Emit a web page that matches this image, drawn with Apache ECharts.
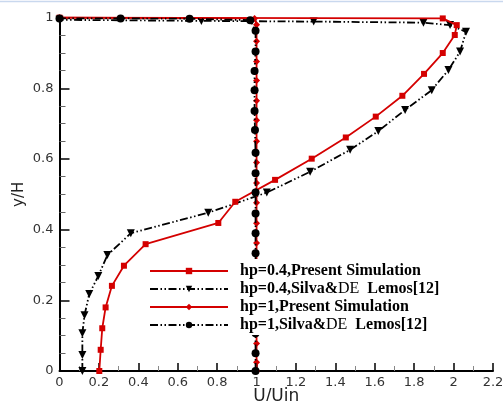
<!DOCTYPE html>
<html>
<head>
<meta charset="utf-8">
<script src="https://cdn.jsdelivr.net/npm/echarts@6/dist/echarts.min.js"></script>
<style>
  html, body { margin: 0; padding: 0; background: #fff; }
  #chart { width: 503px; height: 401px; }
</style>
</head>
<body>
<div id="chart"></div>
<script>
// Velocity profiles U/Uin against y/H
const seriesNames = [
  'hp=0.4,Present Simulation',
  'hp=0.4,Silva&DE  Lemos[12]',
  'hp=1,Present Simulation',
  'hp=1,Silva&DE  Lemos[12]'
];

// [U/Uin, y/H] pairs, listed from the bottom wall upward
const hp04Present = [
  [0.202, 0], [0.209, 0.060], [0.217, 0.121], [0.234, 0.180], [0.266, 0.241],
  [0.327, 0.298], [0.437, 0.359], [0.806, 0.419], [0.892, 0.479], [1.094, 0.541],
  [1.280, 0.601], [1.453, 0.661], [1.605, 0.720], [1.740, 0.779], [1.850, 0.841],
  [1.945, 0.900], [2.006, 0.951], [2.016, 0.979], [1.945, 0.998], [0, 1.0]
];

const hp04Silva = [
  [0.116, 0], [0.116, 0.045], [0.116, 0.107], [0.127, 0.158], [0.151, 0.218],
  [0.197, 0.269], [0.243, 0.328], [0.362, 0.390], [0.755, 0.448], [1.052, 0.505],
  [1.272, 0.564], [1.475, 0.626], [1.618, 0.679], [1.754, 0.739], [1.889, 0.795],
  [1.974, 0.852], [2.033, 0.904], [2.063, 0.960], [1.982, 0.979], [1.847, 0.986],
  [1.290, 0.989], [0.720, 0.991], [0, 0.994]
];

const hp1Present = [
  [1.0, 0], [1.0, 0.025], [1.0, 0.078], [1.0, 0.135], [1.0, 0.190], [1.0, 0.248],
  [1.0, 0.305], [1.0, 0.362], [1.0, 0.418], [1.0, 0.476], [1.0, 0.532], [1.0, 0.590],
  [1.0, 0.650], [1.0, 0.710], [1.0, 0.765], [1.0, 0.822], [1.0, 0.876], [1.0, 0.933],
  [1.0, 0.980], [0.99, 0.998], [0, 1.0]
];

const hp1Silva = [
  [0.995, 0], [0.995, 0.050], [0.995, 0.107], [0.995, 0.163], [0.995, 0.220],
  [0.995, 0.276], [0.995, 0.333], [0.995, 0.390], [0.995, 0.446], [0.995, 0.505],
  [0.995, 0.560], [0.995, 0.618], [0.992, 0.682], [0.99, 0.736], [0.99, 0.795],
  [0.99, 0.849], [0.995, 0.904], [0.995, 0.963], [0.968, 0.993], [0.660, 0.997],
  [0.310, 0.998], [0, 0.998]
];

const xTicks = { min: 0, max: 2.2, step: 0.2 };
const yTicks = { min: 0, max: 1, step: 0.2 };

const RED = '#d40000';
const BLACK = '#000000';
const dashDotDot = [8, 2.5, 1.5, 2.5, 1.5, 2.5];

const chart = echarts.init(document.getElementById('chart'), null, { renderer: 'canvas' });

const axisFont = 'DejaVu Sans';

chart.setOption({
  backgroundColor: '#fff',
  animation: false,
  grid: {
    left: 59.5, right: 10, top: 17.7, bottom: 30,
    containLabel: false,
    outerBoundsMode: 'none'
  },
  graphic: [{
    type: 'line',
    shape: { x1: 0, y1: 1.5, x2: 503, y2: 1.5 },
    style: { stroke: '#c9d8ee', lineWidth: 1.5 },
    silent: true
  }],
  legend: {
    data: seriesNames,
    orient: 'vertical',
    left: 143,
    top: 259,
    padding: [4, 6, 2, 6],
    backgroundColor: '#fff',
    itemWidth: 78,
    itemHeight: 8,
    itemGap: 2,
    selectedMode: false,
    textStyle: {
      fontFamily: 'Liberation Serif',
      fontSize: 16,
      lineHeight: 16,
      fontWeight: 'bold',
      color: '#000',
      padding: [0, 0, 0, 7],
      rich: {
        b: { fontFamily: 'Liberation Serif', fontSize: 16, lineHeight: 16, fontWeight: 'bold', color: '#000' },
        n: { fontFamily: 'Liberation Serif', fontSize: 16, lineHeight: 16, fontWeight: 'normal', color: '#000' }
      }
    },
    formatter: function (name) {
      const i = name.indexOf('DE');
      if (i < 0) return '{b|' + name + '}';
      return '{b|' + name.slice(0, i) + '}{n|DE}{b|' + name.slice(i + 2) + '}';
    }
  },
  xAxis: {
    type: 'value',
    min: xTicks.min,
    max: xTicks.max,
    interval: xTicks.step,
    name: 'U/Uin',
    nameLocation: 'middle',
    nameGap: 17,
    nameMoveOverlap: false,
    nameTextStyle: { fontFamily: axisFont, fontSize: 17, color: '#222', verticalAlign: 'top' },
    axisLine: { show: true, onZero: false, lineStyle: { color: '#000', width: 2 } },
    axisTick: { show: true, inside: true, length: 8, lineStyle: { color: '#000', width: 1.5 } },
    minorTick: { show: true, splitNumber: 2, length: 5, lineStyle: { color: '#888', width: 1 } },
    axisLabel: { fontFamily: axisFont, fontSize: 13, color: '#333', margin: 5 },
    splitLine: { show: false },
    minorSplitLine: { show: false }
  },
  yAxis: {
    type: 'value',
    min: yTicks.min,
    max: yTicks.max,
    interval: yTicks.step,
    name: 'y/H',
    nameLocation: 'middle',
    nameGap: 33,
    nameMoveOverlap: false,
    nameRotate: 90,
    nameTextStyle: { fontFamily: axisFont, fontSize: 15, color: '#222' },
    axisLine: { show: true, onZero: false, lineStyle: { color: '#000', width: 2 } },
    axisTick: { show: true, inside: true, length: 10, lineStyle: { color: '#000', width: 1.5 } },
    minorTick: { show: true, splitNumber: 4, length: 6, lineStyle: { color: '#666', width: 1 } },
    axisLabel: { fontFamily: axisFont, fontSize: 13, color: '#333', margin: 6 },
    splitLine: { show: false },
    minorSplitLine: { show: false }
  },
  series: [
    {
      name: seriesNames[0],
      type: 'line',
      data: hp04Present,
      symbol: 'rect',
      symbolSize: 6,
      showAllSymbol: true,
      clip: false,
      lineStyle: { color: RED, width: 1.8 },
      itemStyle: { color: RED },
      z: 3
    },
    {
      name: seriesNames[1],
      type: 'line',
      data: hp04Silva,
      symbol: 'triangle',
      symbolRotate: 180,
      symbolSize: 8,
      showAllSymbol: true,
      clip: false,
      lineStyle: { color: BLACK, width: 1.8, type: dashDotDot },
      itemStyle: { color: BLACK },
      z: 2
    },
    {
      name: seriesNames[2],
      type: 'line',
      data: hp1Present,
      symbol: 'diamond',
      symbolSize: 7,
      showAllSymbol: true,
      clip: false,
      lineStyle: { color: RED, width: 1.8 },
      itemStyle: { color: RED },
      z: 2
    },
    {
      name: seriesNames[3],
      type: 'line',
      data: hp1Silva,
      symbol: 'circle',
      symbolSize: 8,
      showAllSymbol: true,
      clip: false,
      lineStyle: { color: BLACK, width: 1.8, type: dashDotDot },
      itemStyle: { color: BLACK },
      z: 3
    }
  ]
});
</script>
</body>
</html>
